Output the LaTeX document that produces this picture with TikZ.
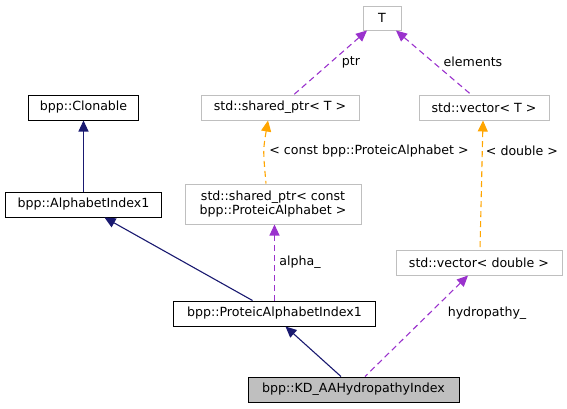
\documentclass[tikz,border=0pt]{standalone}
\usepackage{fontspec}
\setmainfont{DejaVu Sans}
\usetikzlibrary{arrows.meta}
\definecolor{navyedge}{HTML}{191970}
\definecolor{orchidedge}{HTML}{9A32CD}
\definecolor{orangeedge}{HTML}{FFA500}
\definecolor{graybox}{HTML}{BFBFBF}
\tikzset{
  every node/.style={font=\fontsize{12.6}{14}\selectfont, text=black},
  cls/.style={draw=black, line width=1pt, rectangle, inner sep=0pt, fill=white},
  ext/.style={draw=graybox, line width=1pt, rectangle, inner sep=0pt, fill=white, align=center},
  tip/.style={{Triangle[length=11pt,width=10pt]}-},
  inh/.style={draw=navyedge, line width=1.1pt, tip},
  usem/.style={draw=orchidedge, line width=1.1pt, dash pattern=on 6pt off 4pt, tip},
  tmpl/.style={draw=orangeedge, line width=1.1pt, dash pattern=on 6pt off 4pt, tip},
  lbl/.style={inner sep=0pt}
}
\begin{document}
\begin{tikzpicture}[x=1pt, y=-1pt]
\useasboundingbox (0,0) rectangle (567,408);
\node[ext, minimum width=38pt, minimum height=24pt] (T) at (382,18) {T};
\node[cls, minimum width=110pt, minimum height=25pt] (clon) at (83.5,107.5) {bpp::Clonable};
\node[ext, minimum width=158pt, minimum height=25pt] (spT) at (280,107.5) {std::shared\_ptr< T >};
\node[ext, minimum width=130pt, minimum height=25pt] (vT) at (484,107.5) {std::vector< T >};
\node[ext, minimum width=176pt, minimum height=40pt] (spc) at (273,204) {std::shared\_ptr< const\\bpp::ProteicAlphabet >};
\node[cls, minimum width=156pt, minimum height=25pt] (ai1) at (83.5,204.5) {bpp::AlphabetIndex1};
\node[ext, minimum width=166pt, minimum height=25pt] (vd) at (479,262.5) {std::vector< double >};
\node[cls, minimum width=202pt, minimum height=25pt] (pai1) at (274.5,313.5) {bpp::ProteicAlphabetIndex1};
\node[cls, fill=graybox, minimum width=211pt, minimum height=25pt] (kd) at (353.5,389.5) {bpp::KD\_AAHydropathyIndex};

\draw[inh] (clon.south) -- (ai1.north);
\draw[inh] ([xshift=21pt]ai1.south) -- ([xshift=-22pt]pai1.north);
\draw[inh] ([xshift=11pt]pai1.south) -- ([xshift=-12.5pt]kd.north);
\draw[usem] (spc.south -| pai1.north) -- (pai1.north);
\draw[usem] ([xshift=-11pt]vd.south) -- ([xshift=11.5pt]kd.north);
\draw[tmpl] ([xshift=-12pt]spT.south) .. controls (263,150) .. ([xshift=-7pt]spc.north);
\draw[tmpl] ([xshift=-1pt]vT.south) -- ([xshift=1pt]vd.north);
\draw[usem] ([xshift=-15pt]T.south) -- ([xshift=14pt]spT.north);
\draw[usem] ([xshift=14pt]T.south) -- ([xshift=-13pt]vT.north);

\node[lbl] (lptr) at (351,62) {ptr};
\node[lbl] (lel) at (473,62) {elements};
\node[lbl] (lconst) at (369,151) {< const bpp::ProteicAlphabet >};
\node[lbl] (ldbl) at (522,151) {< double >};
\node[lbl] (lalpha) at (300,262) {alpha\_};
\node[lbl] (lhyd) at (487,313) {hydropathy\_};
\end{tikzpicture}
\end{document}
